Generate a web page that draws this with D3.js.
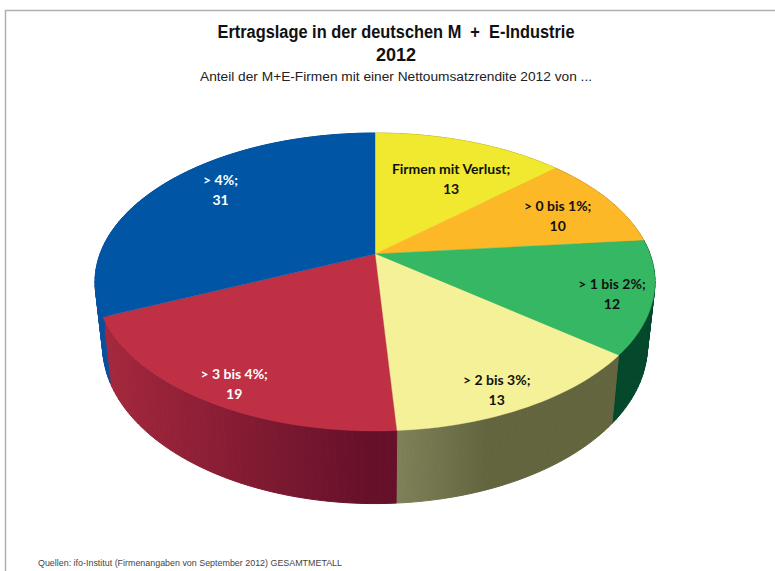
<!DOCTYPE html>
<html>
<head>
<meta charset="utf-8">
<script src="https://cdnjs.cloudflare.com/ajax/libs/d3/7.8.5/d3.min.js"></script>
<style>
    html, body { margin: 0; padding: 0; background: #fff; overflow: hidden; }
    svg { display: block; }
</style>
</head>
<body>
<div id="chart"></div>
<script>
// values (they add up to 98, the pie is drawn on that sum)
var categories = ["Firmen mit Verlust", "> 0 bis 1%", "> 1 bis 2%", "> 2 bis 3%", "> 3 bis 4%", "> 4%"];
var shares = [13, 10, 12, 13, 19, 31];

var titleLines = ["Ertragslage in der deutschen M  +  E-Industrie", "2012"];
var subtitle = "Anteil der M+E-Firmen mit einer Nettoumsatzrendite 2012 von ...";
var source = "Quellen: ifo-Institut (Firmenangaben von September 2012) GESAMTMETALL";

var topColors = ["#f0e92f", "#fdb827", "#36b763", "#f4f198", "#bf3044", "#0056a4"];
var wallLeft = ["#a8a31f", "#b0801a", "#04482b", "#7f8259", "#a5283d", "#0b4f9c"];
var wallRight = ["#a8a31f", "#b0801a", "#04482b", "#63653e", "#66102a", "#0b4f9c"];
var wallShadeEnd = [1, 1, 1, 0.4, 0.9, 1];
var labelColors = ["#111", "#111", "#111", "#111", "#fff", "#fff"];

// label position: radius on the disc plus a small nudge in px
var labelRadius = [0.65, 0.72, 0.75, 0.65, 0.68, 0.65];
var labelNudge = [[11, 2], [11, 2], [31, 8], [29, 43], [-32, 36], [-14, -16]];

var width = 775, height = 571;

var svg = d3.select("#chart")
    .append("svg")
    .attr("width", width)
    .attr("height", height);

var defs = svg.append("defs");

// frame of the slide
svg.append("path")
    .attr("d", "M5.5,571V10.5H775")
    .style("fill", "none")
    .style("stroke", "#b0b0b0")
    .style("stroke-width", 1.5);

/*
Perspective of the disc: the apex sits above the middle of the ellipse
 */
var cx = 375, cy = 254, rX = 275, rY = 143.7, tilt = 0.188;
var wallDrop = 62, wallScaleX = 0.973, wallScaleY = 1.06;

function project(angle, r) {
    var u = r * Math.sin(angle), v = r * Math.cos(angle);
    var w = 1 + tilt * v;
    return [cx + rX * u / w, cy - rY * v / w];
}

function projectBottom(angle) {
    var p = project(angle, 1);
    return [cx + (p[0] - cx) * wallScaleX, cy + wallDrop + (p[1] - cy) * wallScaleY];
}

var pie = d3.pie().sort(null);
var slices = pie(shares);
var line = d3.line();
var step = Math.PI / 120;

function samples(d) {
    var n = Math.max(2, Math.ceil((d.endAngle - d.startAngle) / step));
    return d3.range(n + 1).map(function(i) {
        return d.startAngle + (d.endAngle - d.startAngle) * i / n;
    });
}

// side walls first: strips, so that the part next to the pie's widest point stays filled
var walls = svg.append("g");

slices.forEach(function(d, i) {
    var angles = samples(d);
    var xs = angles.map(function(a) { return project(a, 1)[0]; });

    var grad = defs.append("linearGradient")
        .attr("id", "wall" + i)
        .attr("gradientUnits", "userSpaceOnUse")
        .attr("x1", d3.min(xs))
        .attr("x2", d3.max(xs))
        .attr("y1", 0)
        .attr("y2", 0);
    grad.append("stop").attr("offset", 0).attr("stop-color", wallLeft[i]);
    grad.append("stop").attr("offset", wallShadeEnd[i]).attr("stop-color", wallRight[i]);

    d3.pairs(angles).forEach(function(pair) {
        var a = pair[0], b = pair[1];
        walls.append("path")
            .attr("d", line([project(a, 1), project(b, 1), projectBottom(b), projectBottom(a)]) + "Z")
            .style("fill", "url(#wall" + i + ")")
            .style("stroke", "url(#wall" + i + ")")
            .style("stroke-width", 1);
    });
});

// top of the pie
svg.append("g")
    .selectAll("path")
    .data(slices)
    .enter()
    .append("path")
    .attr("d", function(d) {
        var pts = samples(d).map(function(a) { return project(a, 1); });
        return line([[cx, cy]].concat(pts)) + "Z";
    })
    .style("fill", function(d, i) { return topColors[i]; })
    .style("stroke", function(d, i) { return topColors[i]; })
    .style("stroke-width", 0.4);

/*
Labels
 */
var labels = svg.append("g")
    .selectAll("text")
    .data(slices)
    .enter()
    .append("text")
    .attr("transform", function(d, i) {
        var p = project((d.startAngle + d.endAngle) / 2, labelRadius[i]);
        return "translate(" + (p[0] + labelNudge[i][0]) + "," + (p[1] + labelNudge[i][1]) + ")";
    })
    .style("font-family", "Lato, 'Open Sans', sans-serif")
    .style("font-weight", "bold")
    .style("font-size", "14px")
    .style("text-anchor", "middle")
    .style("fill", function(d, i) { return labelColors[i]; });

labels.append("tspan")
    .attr("x", 0)
    .attr("y", -5)
    .text(function(d, i) { return categories[i] + ";"; });

labels.append("tspan")
    .attr("x", 0)
    .attr("y", 15)
    .text(function(d) { return d.data; });

/*
Title block
 */
svg.append("text")
    .attr("x", 396)
    .attr("y", 38)
    .attr("textLength", 357)
    .attr("lengthAdjust", "spacingAndGlyphs")
    .style("font-family", "'Liberation Sans', sans-serif")
    .style("font-weight", "bold")
    .style("font-size", "18px")
    .style("white-space", "pre")
    .style("text-anchor", "middle")
    .style("fill", "#111")
    .text(titleLines[0]);

svg.append("text")
    .attr("x", 396)
    .attr("y", 61)
    .style("font-family", "'Liberation Sans', sans-serif")
    .style("font-weight", "bold")
    .style("font-size", "18px")
    .style("text-anchor", "middle")
    .style("fill", "#111")
    .text(titleLines[1]);

svg.append("text")
    .attr("x", 396)
    .attr("y", 81)
    .attr("textLength", 392)
    .attr("lengthAdjust", "spacingAndGlyphs")
    .style("font-family", "'Liberation Sans', sans-serif")
    .style("font-size", "12.5px")
    .style("text-anchor", "middle")
    .style("fill", "#222")
    .text(subtitle);

svg.append("text")
    .attr("x", 38)
    .attr("y", 566)
    .attr("textLength", 304)
    .attr("lengthAdjust", "spacingAndGlyphs")
    .style("font-family", "'Liberation Sans', sans-serif")
    .style("font-size", "9.5px")
    .style("fill", "#444")
    .text(source);
</script>
</body>
</html>
